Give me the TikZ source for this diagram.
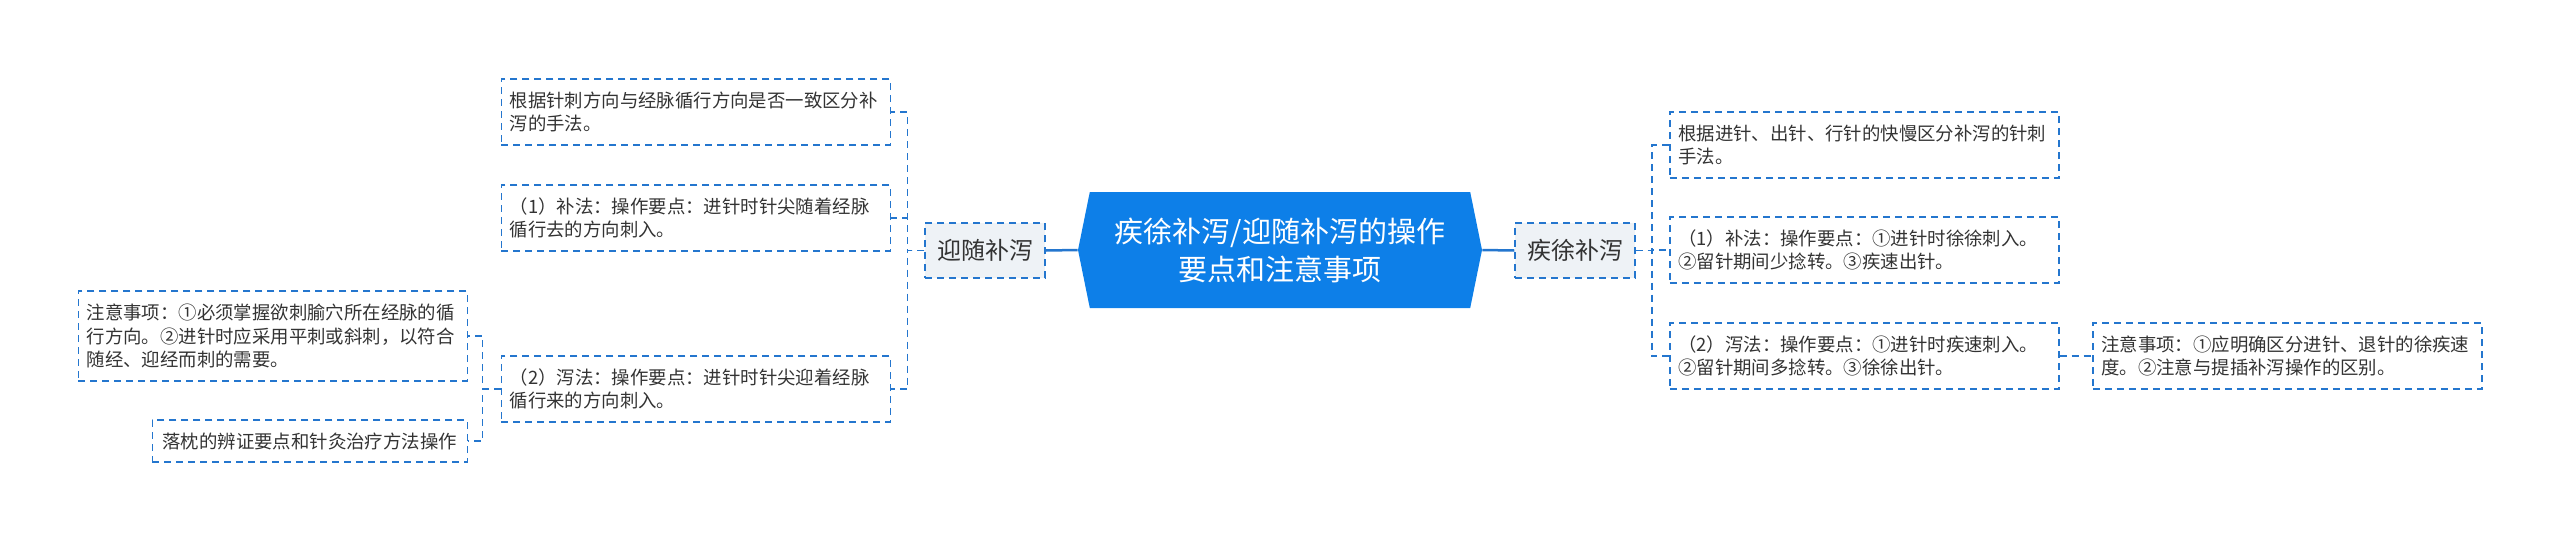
\documentclass[tikz,border=0pt]{standalone}
\usepackage{fontspec}
\setmainfont{Noto Sans CJK SC}
\usepackage{xcolor}
\usepackage{tikz}
\usetikzlibrary{shapes,shapes.symbols,positioning,calc}

\definecolor{linkblue}{HTML}{2476CE}
\definecolor{rootblue}{HTML}{0D7FE8}
\definecolor{branchfill}{HTML}{EEF2F6}
\definecolor{leaftext}{HTML}{333333}

\begin{document}
\begin{tikzpicture}[x=0.5pt, y=-0.5pt,
    dashline/.style={draw=linkblue, line width=0.75pt, dash pattern=on 3.5pt off 2.5pt},
    rootnode/.style={signal, signal to=east and west, signal pointer angle=157,
        fill=rootblue, text=white, align=center, minimum width=202pt, minimum height=58pt,
        inner sep=0pt, font=\fontsize{14.5pt}{19pt}\selectfont},
    branch/.style={dashline, fill=branchfill, minimum width=60pt, minimum height=27.5pt,
        inner sep=0pt, text=leaftext, font=\fontsize{12pt}{14pt}\selectfont},
    leafbox/.style={dashline, text=leaftext, inner xsep=4.25pt, inner ysep=0pt,
        font=\fontsize{9.2pt}{11.65pt}\selectfont},
    leaf/.style={leafbox, text width=186pt, align=left, minimum height=33pt},
    mainlink/.style={draw=linkblue, line width=1.25pt},
    sublink/.style={dashline}]

    \useasboundingbox (0,0) rectangle (2560,542);

    % Root
    \node [rootnode] (root) at (1280,250) {疾徐补泻/迎随补泻的操作\\要点和注意事项};

    % Left branch
    \node [branch] (yisui) at (985,250.5) {迎随补泻};
    \node [leaf, anchor=east] (l1) at (891,112) {根据针刺方向与经脉循行方向是否一致区分补\\泻的手法。};
    \node [leaf, anchor=east] (l2) at (891,218) {（1）补法：操作要点：进针时针尖随着经脉\\循行去的方向刺入。};
    \node [leaf, anchor=east] (l3) at (891,389) {（2）泻法：操作要点：进针时针尖迎着经脉\\循行来的方向刺入。};
    \node [leaf, anchor=east, minimum height=45pt] (lnote) at (468,336) {注意事项：①必须掌握欲刺腧穴所在经脉的循\\行方向。②进针时应采用平刺或斜刺，以符合\\随经、迎经而刺的需要。};
    \node [leafbox, anchor=east, minimum width=157.5pt, minimum height=21pt] (lluo) at (468,441) {落枕的辨证要点和针灸治疗方法操作};

    % Right branch
    \node [branch] (jixu) at (1575,250.5) {疾徐补泻};
    \node [leaf, anchor=west] (r1) at (1669,145) {根据进针、出针、行针的快慢区分补泻的针刺\\手法。};
    \node [leaf, anchor=west] (r2) at (1669,250) {（1）补法：操作要点：①进针时徐徐刺入。\\②留针期间少捻转。③疾速出针。};
    \node [leaf, anchor=west] (r3) at (1669,356) {（2）泻法：操作要点：①进针时疾速刺入。\\②留针期间多捻转。③徐徐出针。};
    \node [leaf, anchor=west] (rnote) at (2092,356) {注意事项：①应明确区分进针、退针的徐疾速\\度。②注意与提插补泻操作的区别。};

    % Connectors
    \draw [mainlink] (root.west) -- (yisui.east);
    \draw [mainlink] (root.east) -- (jixu.west);
    \foreach \n in {l1,l2,l3}
        \draw [sublink] (yisui.west) -- ++(-17,0) |- (\n.east);
    \foreach \n in {lnote,lluo}
        \draw [sublink] (l3.west) -- ++(-18,0) |- (\n.east);
    \foreach \n in {r1,r2,r3}
        \draw [sublink] (jixu.east) -- ++(16,0) |- (\n.west);
    \draw [sublink] (r3.east) -- (rnote.west);
\end{tikzpicture}
\end{document}
